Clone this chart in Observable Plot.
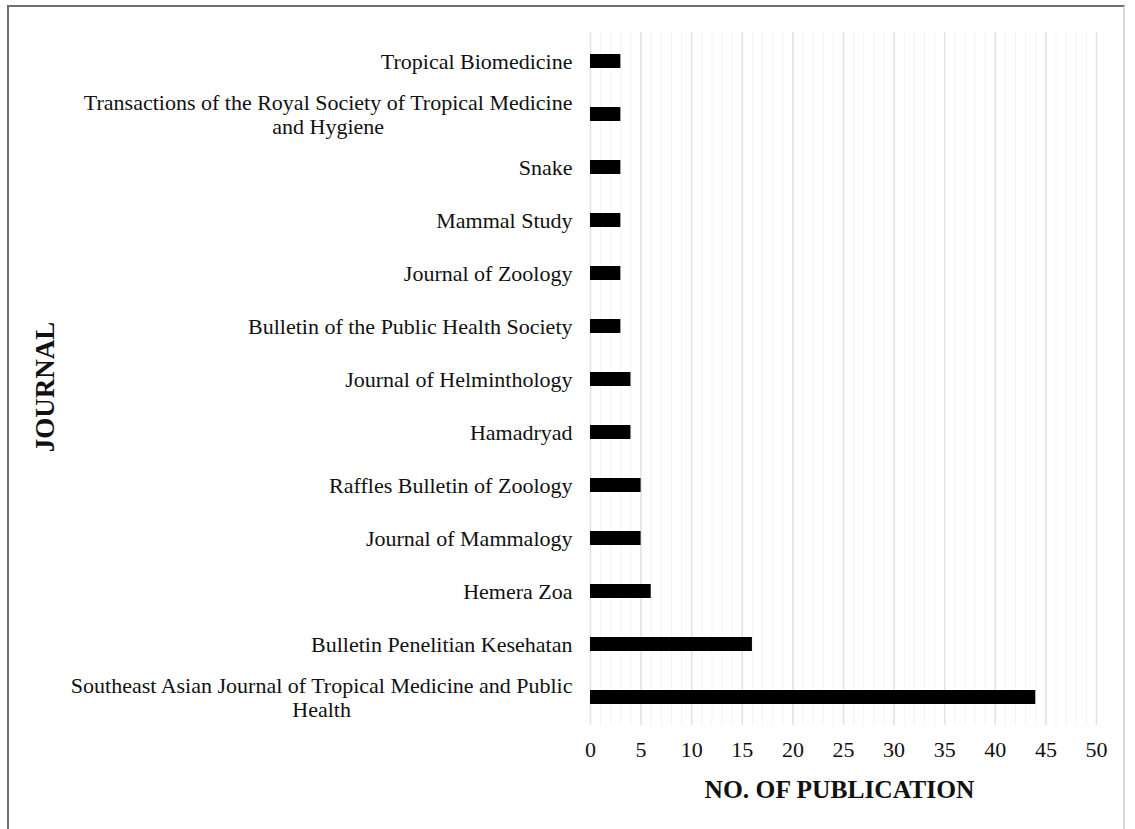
<!DOCTYPE html>
<html>
<head>
<meta charset="utf-8">
<script src="https://cdn.jsdelivr.net/npm/d3@7"></script>
<script src="https://cdn.jsdelivr.net/npm/@observablehq/plot@0.6"></script>
<style>
  html, body { margin: 0; padding: 0; background: #fff; }
  #wrap { position: relative; width: 1135px; height: 829px; overflow: hidden; }
  #frame { position: absolute; left: 7px; top: 5px; width: 1118px; height: 830px;
           border-left: 2px solid #6e6e6e; border-top: 2px solid #6e6e6e; border-right: 2px solid #d8d8d8; box-sizing: border-box; }
  #chart { position: absolute; left: 0; top: 0; }
</style>
</head>
<body>
<div id="wrap"><div id="frame"></div><div id="chart"></div></div>
<script>
const journals = [
  "Tropical Biomedicine",
  "Transactions of the Royal Society of Tropical Medicine\nand Hygiene",
  "Snake",
  "Mammal Study",
  "Journal of Zoology",
  "Bulletin of the Public Health Society",
  "Journal of Helminthology",
  "Hamadryad",
  "Raffles Bulletin of Zoology",
  "Journal of Mammalogy",
  "Hemera Zoa",
  "Bulletin Penelitian Kesehatan",
  "Southeast Asian Journal of Tropical Medicine and Public\nHealth"
];
const publications = [3, 3, 3, 3, 3, 3, 4, 4, 5, 5, 6, 16, 44];
const xTicks = [0, 5, 10, 15, 20, 25, 30, 35, 40, 45, 50];
const minorTicks = d3.range(0, 51);
const xTitle = "NO. OF PUBLICATION";
const yTitle = "JOURNAL";

const data = journals.map((j, i) => ({journal: j, n: publications[i]}));
const font = "'Liberation Serif', 'Times New Roman', serif";

const chart = Plot.plot({
  width: 1135,
  height: 829,
  marginLeft: 590,
  marginRight: 39,
  marginTop: 32,
  marginBottom: 104,
  style: {fontFamily: font, color: "#111", background: "transparent"},
  x: {domain: [0, 50], ticks: xTicks},
  y: {domain: journals, paddingInner: 0.737, paddingOuter: 0.375},
  marks: [
    Plot.ruleX(minorTicks, {stroke: "#f3f3f3", strokeWidth: 1}),
    Plot.ruleX(xTicks, {stroke: "#e2e2e2", strokeWidth: 1.5}),
    Plot.barX(data, {x: "n", y: "journal", fill: "#000"}),
    Plot.axisX({ticks: xTicks, tickSize: 0, tickPadding: 16, fontSize: 22, label: null, anchor: "bottom"}),
    Plot.axisY({tickSize: 0, tickPadding: 18, fontSize: 22, lineHeight: 1.08, label: null, anchor: "left"}),
    Plot.text([xTitle], {frameAnchor: "bottom", dx: -4, dy: 72, fontSize: 25.5, fontWeight: "bold", fill: "#111"}),
    Plot.text([yTitle], {frameAnchor: "left", dx: -545, dy: 8, rotate: -90, textAnchor: "middle", fontSize: 27, fontWeight: "bold", fill: "#111"})
  ]
});
document.getElementById("chart").appendChild(chart);

// Center the lines of wrapped y tick labels within their right-aligned block
chart.querySelectorAll("[aria-label='y-axis tick label'] text").forEach(t => {
  const spans = t.querySelectorAll("tspan");
  if (spans.length > 1) {
    let maxW = 0;
    spans.forEach(s => { maxW = Math.max(maxW, s.getComputedTextLength()); });
    t.setAttribute("text-anchor", "middle");
    const baseX = parseFloat(t.getAttribute("x") || 0);
    spans.forEach(s => s.setAttribute("x", baseX - maxW / 2));
  }
});
</script>
</body>
</html>
